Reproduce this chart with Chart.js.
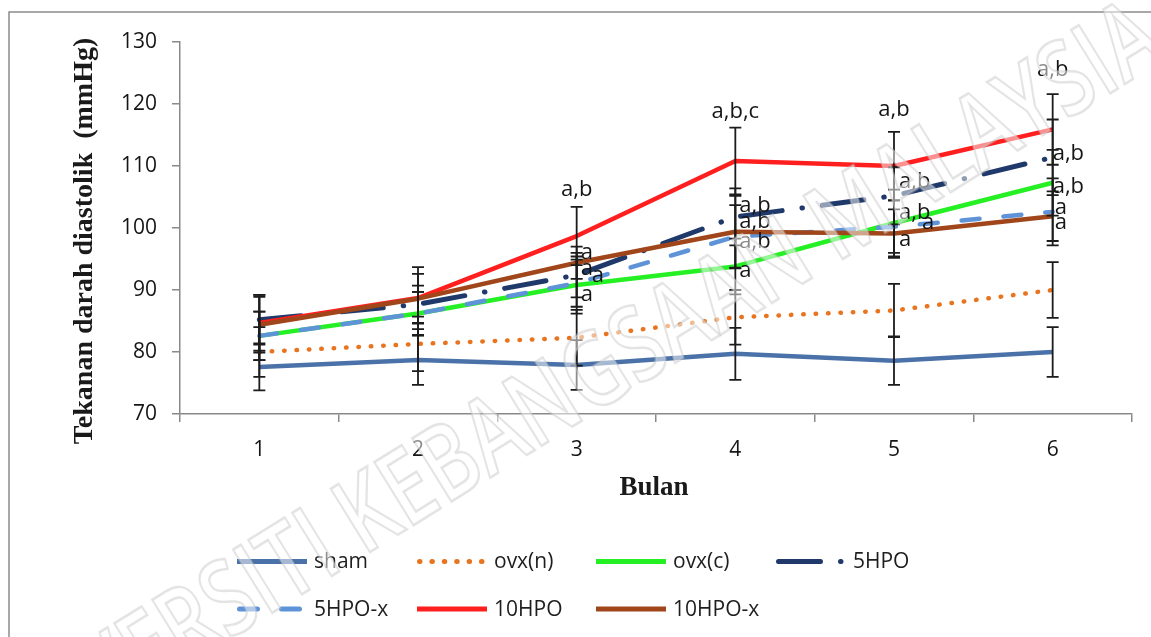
<!DOCTYPE html>
<html>
<head>
<meta charset="utf-8">
<script src="https://cdn.jsdelivr.net/npm/chart.js@4.4.1/dist/chart.umd.min.js"></script>
<style>
  html, body { margin: 0; padding: 0; background: #ffffff; }
  #wrap { width: 1151px; height: 637px; position: relative; }
</style>
</head>
<body>
<div id="wrap"><canvas id="c" width="1151" height="637"></canvas></div>
<script>
// Tekanan darah diastolik per bulan (mean, mmHg) and standard deviations
const months = ['1', '2', '3', '4', '5', '6'];
const seriesNames = ['sham', 'ovx(n)', 'ovx(c)', '5HPO', '5HPO-x', '10HPO', '10HPO-x'];

const sham   = [77.6, 78.7, 77.9, 79.7, 78.6, 80.0];
const ovxN   = [80.0, 81.3, 82.3, 85.6, 86.7, 90.0];
const ovxC   = [82.6, 86.2, 90.8, 93.8, 100.8, 107.3];
const hpo5   = [85.2, 87.7, 92.4, 101.8, 105.2, 111.4];
const hpo5x  = [82.6, 86.2, 91.1, 98.6, 100.2, 102.6];
const hpo10  = [84.7, 88.7, 98.7, 110.8, 110.0, 115.9];
const hpo10x = [84.4, 88.6, 94.4, 99.4, 99.1, 101.9];

const shamSD   = [3.8, 4.0, 4.0, 4.2, 3.9, 4.0];
const ovxNSD   = [4.0, 4.4, 4.5, 4.4, 4.3, 4.5];
const ovxCSD   = [3.9, 3.5, 4.6, 4.5, 5.4, 5.3];
const hpo5SD   = [4.0, 3.0, 3.6, 4.6, 4.6, 6.1];
const hpo5xSD  = [3.9, 3.5, 3.8, 5.1, 4.2, 5.4];
const hpo10SD  = [4.5, 5.0, 4.7, 5.4, 5.5, 5.7];
const hpo10xSD = [4.5, 4.0, 2.6, 5.8, 3.9, 4.0];

// significance letters
const ovxCSig   = ['', '', 'a', 'a', 'a,b', 'a,b'];
const hpo5Sig   = ['', '', 'a', 'a,b', 'a,b', 'a,b'];
const hpo5xSig  = ['', '', 'a', 'a,b', 'a', 'a'];
const hpo10Sig  = ['', '', 'a,b', 'a,b,c', 'a,b', 'a,b'];
const hpo10xSig = ['', '', 'a', 'a,b', 'a', 'a'];

const yTicks = { min: 70, max: 130, step: 10 };

const FONT = 'Open Sans';
const AXIS_GRAY = '#898989';

// line styles per series
const styles = [
  { color: '#4a72a8', width: 4.5, dash: [],                cap: 'butt'  },
  { color: '#e8741f', width: 4.5, dash: [0.5, 11.9],       cap: 'round' },
  { color: '#24f024', width: 4.5, dash: [],                cap: 'butt'  },
  { color: '#1f3a6a', width: 5,   dash: [42, 20, 0.5, 20], cap: 'round' },
  { color: '#5f93d8', width: 4.5, dash: [18, 24],          cap: 'round' },
  { color: '#ff1f1f', width: 4.5, dash: [],                cap: 'butt'  },
  { color: '#a0461a', width: 4.5, dash: [],                cap: 'butt'  }
];

const values = [sham, ovxN, ovxC, hpo5, hpo5x, hpo10, hpo10x];
const errors = [shamSD, ovxNSD, ovxCSD, hpo5SD, hpo5xSD, hpo10SD, hpo10xSD];
const letters = [null, null, ovxCSig, hpo5Sig, hpo5xSig, hpo10Sig, hpo10xSig];

// where each letter sits relative to its point (px): [dx, dy]
const letterNudge = {
  2: [null, null, [4, 10], [4, 4], [5, -10], [0, 4]],
  3: [null, null, [4, -6], [4, -11], [5, -14], [0, -4]],
  4: [null, null, [15, -7], [4, 5], [28, -4], [2, -4]],
  6: [null, null, [4, -10], [4, -10], [5, 6], [2, 7]]
};
// letters above the 10HPO error bar: gap above the cap (px)
const topGap = [0, 0, 17, 16, 22, 24];

const datasets = values.map((v, i) => ({
  label: seriesNames[i],
  data: v,
  borderColor: styles[i].color,
  backgroundColor: styles[i].color,
  borderWidth: styles[i].width,
  borderDash: styles[i].dash,
  borderCapStyle: styles[i].cap,
  borderJoinStyle: 'round',
  pointRadius: 0,
  pointHoverRadius: 0,
  tension: 0,
  fill: false,
  order: values.length - i
}));

const framePlugin = {
  id: 'frame',
  beforeDraw(chart) {
    const ctx = chart.ctx;
    ctx.save();
    ctx.fillStyle = '#ffffff';
    ctx.fillRect(0, 0, chart.width, chart.height);
    ctx.strokeStyle = '#8c8c8c';
    ctx.lineWidth = 1.5;
    ctx.beginPath();
    ctx.moveTo(9, chart.height + 2);
    ctx.lineTo(9, 12);
    ctx.lineTo(chart.width + 2, 12);
    ctx.stroke();
    ctx.restore();
  }
};

const errorBarPlugin = {
  id: 'errorBars',
  afterDatasetsDraw(chart) {
    const ctx = chart.ctx;
    const ys = chart.scales.y;
    ctx.save();
    ctx.strokeStyle = '#1c1c1c';
    ctx.lineWidth = 1.8;
    ctx.setLineDash([]);
    errors.forEach((sd, di) => {
      const meta = chart.getDatasetMeta(di);
      meta.data.forEach((pt, i) => {
        const v = values[di][i];
        const top = ys.getPixelForValue(v + sd[i]);
        const bot = ys.getPixelForValue(v - sd[i]);
        const x = pt.x;
        ctx.beginPath();
        ctx.moveTo(x, top); ctx.lineTo(x, bot);
        ctx.moveTo(x - 6, top); ctx.lineTo(x + 6, top);
        ctx.moveTo(x - 6, bot); ctx.lineTo(x + 6, bot);
        ctx.stroke();
      });
    });
    ctx.restore();
  }
};

const letterPlugin = {
  id: 'letters',
  afterDatasetsDraw(chart) {
    const ctx = chart.ctx;
    const ys = chart.scales.y;
    ctx.save();
    ctx.fillStyle = '#151515';
    ctx.font = '22px "' + FONT + '"';
    letters.forEach((arr, di) => {
      if (!arr) return;
      const meta = chart.getDatasetMeta(di);
      arr.forEach((txt, i) => {
        if (!txt) return;
        const pt = meta.data[i];
        if (di === 5) {
          const top = ys.getPixelForValue(values[di][i] + errors[di][i]);
          ctx.textAlign = 'center';
          ctx.textBaseline = 'middle';
          ctx.fillText(txt, pt.x, top - topGap[i]);
        } else {
          const n = letterNudge[di][i];
          ctx.textAlign = 'left';
          ctx.textBaseline = 'middle';
          ctx.fillText(txt, pt.x + n[0], pt.y + n[1]);
        }
      });
    });
    ctx.restore();
  }
};

const titlesPlugin = {
  id: 'axisTitles',
  afterDraw(chart) {
    const ctx = chart.ctx;
    ctx.save();
    ctx.fillStyle = '#1a1a1a';
    ctx.font = 'bold 28px "Liberation Serif"';
    ctx.textAlign = 'center';
    ctx.textBaseline = 'middle';
    ctx.translate(85, 241);
    ctx.rotate(-Math.PI / 2);
    ctx.fillText('Tekanan darah diastolik  (mmHg)', 0, 0);
    ctx.restore();

    ctx.save();
    ctx.fillStyle = '#1a1a1a';
    ctx.font = 'bold 27px "Liberation Serif"';
    ctx.textAlign = 'center';
    ctx.textBaseline = 'middle';
    ctx.fillText('Bulan', 654, 488);
    ctx.restore();
  }
};

const legendPlugin = {
  id: 'customLegend',
  afterDraw(chart) {
    const ctx = chart.ctx;
    const cols = [237, 417, 596, 776];
    const rows = [561.5, 609];
    ctx.save();
    ctx.font = '21px "' + FONT + '"';
    ctx.textBaseline = 'middle';
    ctx.textAlign = 'left';
    seriesNames.forEach((name, i) => {
      const x = cols[i % 4];
      const y = rows[Math.floor(i / 4)];
      const s = styles[i];
      ctx.strokeStyle = s.color;
      ctx.lineWidth = 5;
      ctx.lineCap = s.cap;
      ctx.setLineDash(s.dash);
      ctx.lineDashOffset = 0;
      ctx.beginPath();
      const x0 = s.cap === 'round' ? x + 2.5 : x;
      ctx.moveTo(x0, y);
      ctx.lineTo(x + 70, y);
      ctx.stroke();
      ctx.setLineDash([]);
      ctx.fillStyle = '#1e1e1e';
      ctx.fillText(name, x + 77, y + 1);
    });
    ctx.restore();
  }
};

const watermarkPlugin = {
  id: 'watermark',
  afterDraw(chart) {
    const ctx = chart.ctx;
    const text = 'UNIVERSITI KEBANGSAAN MALAYSIA';
    ctx.save();
    let size = 72;
    ctx.font = '600 ' + size + 'px "' + FONT + '"';
    const w = ctx.measureText(text).width;
    size = size * 1400 / w;
    ctx.font = '600 ' + size + 'px "' + FONT + '"';
    ctx.translate(559, 400);
    ctx.rotate(-31.8 * Math.PI / 180);
    ctx.scale(1, 1.3);
    ctx.textAlign = 'center';
    ctx.textBaseline = 'middle';
    ctx.fillStyle = 'rgba(255,255,255,0.5)';
    ctx.fillText(text, 0, 0);
    ctx.strokeStyle = 'rgba(195,195,195,0.45)';
    ctx.lineWidth = 2;
    ctx.strokeText(text, 0, 0);
    ctx.restore();
  }
};

new Chart(document.getElementById('c'), {
  type: 'line',
  data: { labels: months, datasets },
  options: {
    responsive: false,
    animation: false,
    events: [],
    layout: { padding: { top: 42, right: 19, left: 0, bottom: 0 } },
    plugins: { legend: { display: false }, tooltip: { enabled: false }, title: { display: false } },
    scales: {
      x: {
        type: 'category',
        offset: true,
        grid: { display: true, drawOnChartArea: false, drawTicks: true, tickLength: 8, offset: true, color: AXIS_GRAY, lineWidth: 1.5 },
        border: { display: true, color: AXIS_GRAY, width: 1.5 },
        ticks: { font: { family: FONT, size: 21 }, color: '#151515', padding: 15, maxRotation: 0 },
        afterFit(scale) { scale.height = 223; }
      },
      y: {
        min: yTicks.min,
        max: yTicks.max,
        grid: { display: true, drawOnChartArea: false, drawTicks: true, tickLength: 8, color: AXIS_GRAY, lineWidth: 1.5 },
        border: { display: true, color: AXIS_GRAY, width: 1.5 },
        ticks: { stepSize: yTicks.step, font: { family: FONT, size: 21 }, color: '#151515', padding: 15 },
        afterFit(scale) { scale.width = 180; }
      }
    }
  },
  plugins: [framePlugin, errorBarPlugin, letterPlugin, titlesPlugin, legendPlugin, watermarkPlugin]
});
</script>
</body>
</html>
